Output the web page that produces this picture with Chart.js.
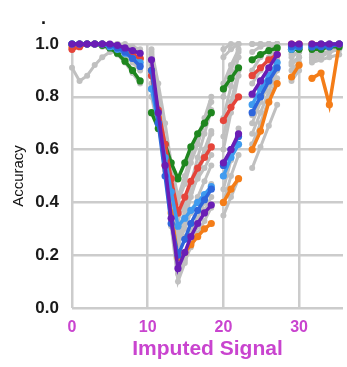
<!DOCTYPE html>
<html><head><meta charset="utf-8">
<script src="https://cdn.jsdelivr.net/npm/chart.js@4"></script>
<style>
html,body{margin:0;padding:0;background:#fff;}
#wrap{position:relative;width:347px;height:367px;}
#dot{position:absolute;left:41px;top:8px;font:bold 18px "Liberation Sans",Arial,sans-serif;color:#111;}
</style></head><body>
<div id="wrap"><canvas id="c" width="347" height="367"></canvas><div id="dot">.</div></div>
<script>
// x positions of each segment (segments are separated by a gap)
const xA = [0,1,2,3,4,5,6,7,8,9];
const xB = [10.5,11.4,12.3,13.1,14,14.9,15.7,16.6,17.5,18.4];
const xC = [20,21,22];
const xD = [23.8,24.9,26,27.1];
const xE = [29,30];
const xF = [31.7,32.9,34,35.3];
const xTicks = [0,10,20,30];
const yTicks = [0,0.2,0.4,0.6,0.8,1.0];

// coloured series: [A, B, C, D, E, F]
const purple = [[1,1,1,1,1,1,0.995,0.985,0.975,0.965],[0.94,0.74,0.54,0.34,0.15,0.21,0.27,0.32,0.36,0.39],[0.55,0.6,0.66],[0.81,0.86,0.91,0.96],[1,1],[1,1,1,1]];
const blue = [[1,1,1,1,1,0.995,0.985,0.97,0.945,0.915],[0.9,0.7,0.5,0.32,0.2,0.26,0.32,0.37,0.41,0.45],[0.54,0.6,0.65],[0.74,0.8,0.86,0.91],[0.99,0.99],[0.99,0.99,0.99,1]];
const skyblue = [[1,1,1,1,1,0.99,0.98,0.965,0.945,0.93],[0.83,0.7,0.57,0.44,0.31,0.34,0.37,0.4,0.43,0.46],[0.5,0.57,0.62],[0.77,0.83,0.88,0.93],[0.98,0.99],[0.99,1,1,1]];
const red = [[0.98,0.99,1,1,1,0.995,0.985,0.975,0.96,0.945],[0.88,0.75,0.62,0.49,0.36,0.42,0.48,0.53,0.57,0.61],[0.71,0.76,0.8],[0.88,0.91,0.94,0.96],[1,1],[1,1,1,1]];
const green = [[1,1,1,1,0.995,0.985,0.965,0.935,0.9,0.86],[0.74,0.68,0.62,0.55,0.49,0.55,0.61,0.66,0.7,0.74],[0.83,0.87,0.91],[0.94,0.96,0.975,0.985],[0.98,0.98],[0.98,0.98,0.99,0.99]];
const orange = [[0.99,1,1,1,1,0.99,0.98,0.97,0.955,0.945],[0.9,0.72,0.54,0.36,0.19,0.21,0.24,0.27,0.3,0.32],[0.4,0.45,0.49],[0.6,0.67,0.78,0.85],[0.875,0.92],[0.87,0.89,0.77,1]];

// grey background series
const grey1 = [[0.91,0.86,0.88,0.92,0.95,0.97,0.97,0.96,0.95,0.93],[0.97,0.8,0.62,0.44,0.25,0.33,0.42,0.5,0.58,0.66],[0.85,0.92,0.98],[0.97,0.99,1,1],[0.93,0.95],[0.95,0.96,0.97,0.98]];
const grey2 = [[1,1,1,1,1,1,0.99,0.98,0.97,0.96],[0.96,0.74,0.52,0.31,0.1,0.17,0.24,0.31,0.37,0.42],[0.35,0.42,0.49],[0.53,0.61,0.69,0.77],[0.86,0.9],[0.93,0.94,0.95,0.96]];
const grey3 = [[1,1,1,1,1,0.99,0.98,0.96,0.93,0.9],[0.9,0.74,0.58,0.42,0.27,0.37,0.47,0.57,0.66,0.75],[0.72,0.84,0.95],[0.9,0.95,0.98,1],[0.97,0.99],[1,1,1,1]];
const grey4 = [[1,1,1,1,1,1,0.995,0.99,0.98,0.97],[0.85,0.7,0.55,0.4,0.24,0.3,0.36,0.42,0.48,0.54],[0.6,0.74,0.88],[0.73,0.8,0.87,0.94],[0.99,1],[0.98,0.99,1,1]];
const grey5 = [[1,1,1,1,0.99,0.98,0.96,0.93,0.89,0.85],[0.8,0.68,0.56,0.45,0.4,0.47,0.55,0.62,0.7,0.78],[0.95,0.98,1],[1,1,1,1],[1,1],[1,1,1,1]];
const grey6 = [[1,1,1,1,1,1,1,0.99,0.98,0.97],[0.93,0.73,0.53,0.33,0.13,0.18,0.23,0.28,0.33,0.38],[0.4,0.5,0.58],[0.62,0.7,0.79,0.87],[0.9,0.93],[0.96,0.97,0.97,0.98]];
const grey7 = [[1,1,1,1,1,1,0.99,0.97,0.95,0.93],[0.98,0.85,0.7,0.55,0.42,0.5,0.58,0.65,0.72,0.8],[0.98,1,1],[1,1,1,1],[1,1],[1,1,1,1]];
const grey8 = [[1,1,1,1,1,0.995,0.985,0.97,0.95,0.92],[0.88,0.72,0.56,0.41,0.33,0.4,0.47,0.53,0.6,0.67],[0.8,0.9,0.97],[0.85,0.9,0.95,0.98],[0.96,0.97],[0.99,1,1,1]];
const grey9 = [[1,1,1,1,1,1,0.99,0.98,0.96,0.94],[0.92,0.75,0.58,0.42,0.35,0.39,0.44,0.49,0.53,0.58],[0.65,0.78,0.9],[0.7,0.78,0.85,0.92],[0.95,0.97],[0.97,0.98,0.99,1]];
const grey10 = [[1,1,1,1,1,1,1,1,0.99,0.98],[0.95,0.79,0.62,0.45,0.29,0.27,0.29,0.34,0.4,0.47],[0.45,0.56,0.68],[0.66,0.74,0.82,0.9],[0.92,0.95],[0.94,0.95,0.97,0.99]];

const segX = [xA,xB,xC,xD,xE,xF];
function toPoints(series){
  const out = [];
  series.forEach((seg, s) => {
    if (s > 0) out.push({x: (segX[s-1][segX[s-1].length-1] + segX[s][0]) / 2, y: null});
    seg.forEach((v, i) => out.push({x: segX[s][i], y: v}));
  });
  return out;
}

const coloured = [
  [purple,'#6a1db5'],[blue,'#2e66dc'],[skyblue,'#3f9bef'],[red,'#e5443a'],[green,'#1f861f'],[orange,'#f47d18']
];
const greys = [grey1,grey2,grey3,grey4,grey5,grey6,grey7,grey8,grey9,grey10];

const datasets = [];
coloured.forEach(([s,c]) => datasets.push({
  data: toPoints(s), borderColor: c, backgroundColor: c, pointBackgroundColor: c,
  borderWidth: 3.5, pointRadius: 3.6, pointBorderWidth: 0, clip: false, order: 1, tension: 0
}));
greys.forEach(s => datasets.push({
  data: toPoints(s), borderColor: '#c0c0c0', backgroundColor: '#c0c0c0', pointBackgroundColor: '#c0c0c0',
  borderWidth: 3, pointRadius: 3, pointBorderWidth: 0, clip: false, order: 2, tension: 0
}));

const magenta = '#c944cf';
new Chart(document.getElementById('c'), {
  type: 'line',
  data: { datasets },
  options: {
    responsive: false, animation: false,
    layout: { padding: { top: 44, right: 0, left: 0, bottom: 0 } },
    plugins: { legend: { display: false }, tooltip: { enabled: false } },
    scales: {
      x: {
        type: 'linear', min: 0, max: 35.8,
        afterBuildTicks: s => { s.ticks = xTicks.map(v => ({ value: v })); },
        afterFit: s => { s.height = 59; },
        grid: { color: '#cccccc', lineWidth: 2.5, drawTicks: false },
        border: { display: false },
        ticks: { color: magenta, padding: 10, maxRotation: 0, font: { family: 'Liberation Sans', size: 16, weight: 'bold' } },
        title: { display: true, text: 'Imputed Signal', color: magenta, padding: { top: 0, bottom: 5 }, font: { family: 'Liberation Sans', size: 21, weight: 'bold' } }
      },
      y: {
        min: 0, max: 1,
        afterBuildTicks: s => { s.ticks = yTicks.map(v => ({ value: v })); },
        afterFit: s => { s.width = 72; },
        grid: { color: '#cccccc', lineWidth: 2.5, drawTicks: false },
        border: { display: false },
        ticks: { color: '#1a1a1a', padding: 13, callback: v => Number(v).toFixed(1), font: { family: 'Liberation Sans', size: 17, weight: 'bold' } },
        title: { display: true, text: 'Accuracy', color: '#111111', padding: { top: 10, bottom: 0 }, font: { family: 'Liberation Sans', size: 15 } }
      }
    }
  }
});
</script>
</body></html>
